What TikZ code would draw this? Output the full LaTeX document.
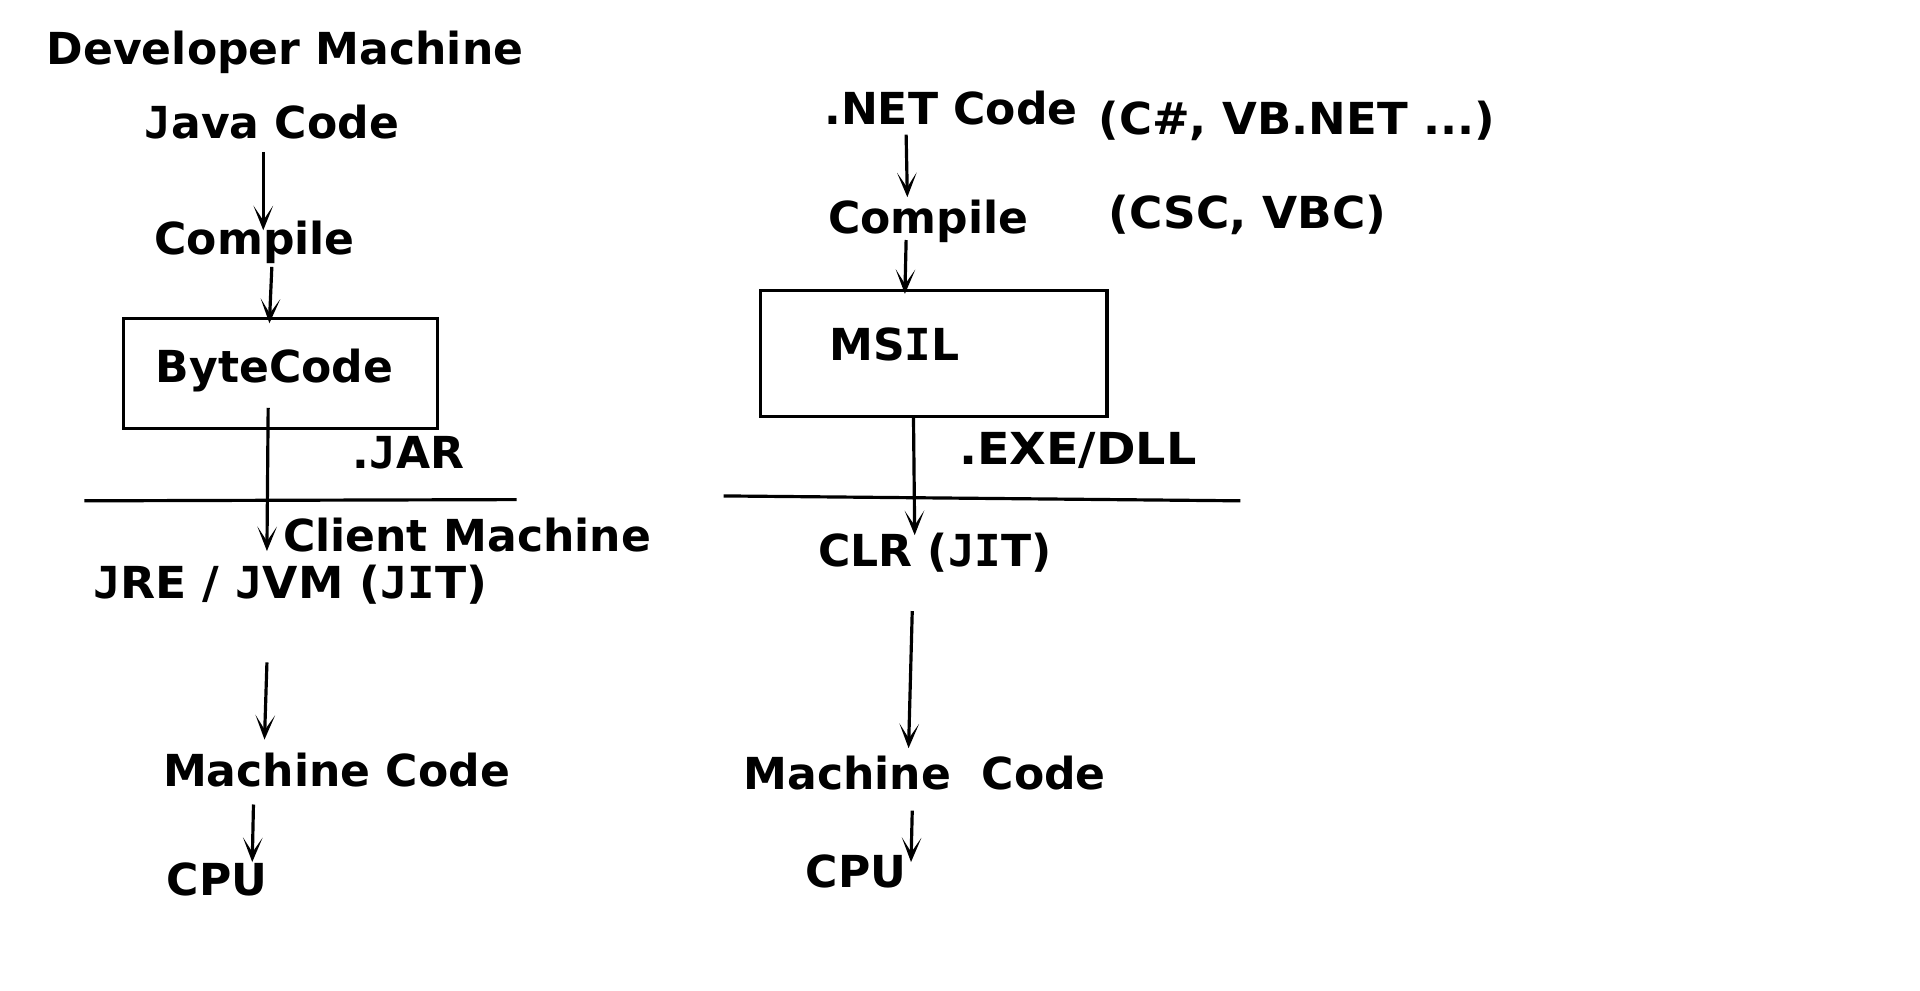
\documentclass[tikz,border=0pt]{standalone}
\usepackage{fontspec}
\setmainfont{DejaVu Sans}
\newfontfamily\monobold{DejaVu Sans Mono}
\newcommand\vrdJ{{\monobold J}}
\newcommand\vrdI{{\monobold I}}
\usetikzlibrary{arrows.meta}
\tikzset{
  lbl/.style={anchor=base west, inner sep=0pt, font=\fontsize{36}{40}\selectfont\bfseries},
  flow/.style={line width=2.6pt, -{Stealth[length=20pt,width=16pt,inset=12pt]}},
  frame/.style={draw, line width=2.6pt},
  divider/.style={line width=2.6pt}
}
\begin{document}
\begin{tikzpicture}[x=1pt,y=-1pt]
\useasboundingbox (0,0) rectangle (1568,809);
% left column
\node[lbl] (dev) at (38,53) {Developer Machine};
\node[lbl] (java) at (118,113) {\vrdJ ava Code};
\node[lbl] (comp1) at (126,208) {Compile};
\draw[frame] (101,260) rectangle (357,350);
\node[lbl] (byte) at (127,312) {ByteCode};
\node[lbl] (jar) at (288,383) {.\vrdJ AR};
\coordinate (l1a) at (69,409);
\coordinate (l1b) at (422,408);
\draw[divider] (l1a) -- (l1b);
\node[lbl] (client) at (231,450) {Client Machine};
\node[lbl] (jre) at (76,489) {\scalebox{1.035}[1]{\vrdJ RE / \vrdJ VM (\vrdJ\vrdI T)}};
\node[lbl] (mc1) at (133,642) {Machine Code};
\node[lbl] (cpu1) at (136,731) {CPU};
\coordinate (a1s) at (215,124); \coordinate (a1e) at (215,188);
\coordinate (a2s) at (222,218); \coordinate (a2e) at (220,264);
\coordinate (a3s) at (219,333); \coordinate (a3e) at (218,450);
\coordinate (a4s) at (218,541); \coordinate (a4e) at (216,604);
\coordinate (a5s) at (207,657); \coordinate (a5e) at (206,704);
\draw[flow] (a1s) -- (a1e);
\draw[flow] (a2s) -- (a2e);
\draw[flow] (a3s) -- (a3e);
\draw[flow] (a4s) -- (a4e);
\draw[flow] (a5s) -- (a5e);
% right column
\node[lbl] (net) at (673,102) {.NET Code};
\node[lbl] (langs) at (897,110) {\scalebox{1.02}[1]{(C\#, VB.NET ...)}};
\node[lbl] (comp2) at (676,191) {Compile};
\node[lbl] (csc) at (905,187) {\scalebox{1.03}[1]{(CSC, VBC)}};
\draw[frame] (621,237) rectangle (904,340);
\node[lbl] (msil) at (677,294) {MS\vrdI L};
\node[lbl] (exe) at (783,379) {\scalebox{1.08}[1]{.EXE/DLL}};
\coordinate (l2a) at (591,405);
\coordinate (l2b) at (1013,409);
\draw[divider] (l2a) -- (l2b);
\node[lbl] (clr) at (668,463) {CLR (\vrdJ\vrdI T)};
\node[lbl] (mc2) at (607,645) {Machine\ \ Code};
\node[lbl] (cpu2) at (658,725) {CPU};
\coordinate (b1s) at (740,110); \coordinate (b1e) at (741,161);
\coordinate (b2s) at (740,196); \coordinate (b2e) at (739,240);
\coordinate (b3s) at (746,340); \coordinate (b3e) at (747,437);
\coordinate (b4s) at (745,499); \coordinate (b4e) at (742,611);
\coordinate (b5s) at (745,662); \coordinate (b5e) at (744,704);
\draw[flow] (b1s) -- (b1e);
\draw[flow] (b2s) -- (b2e);
\draw[flow] (b3s) -- (b3e);
\draw[flow] (b4s) -- (b4e);
\draw[flow] (b5s) -- (b5e);
\end{tikzpicture}
\end{document}
